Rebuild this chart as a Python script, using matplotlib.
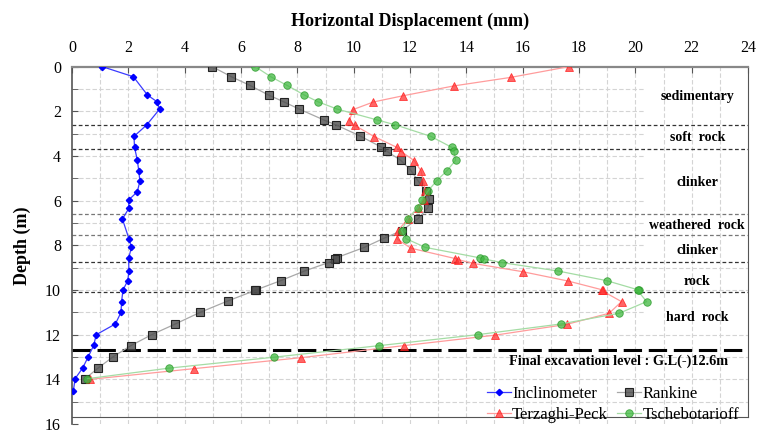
import matplotlib
matplotlib.use('Agg')
import matplotlib.pyplot as plt
import numpy as np

plt.rcParams['font.family'] = ['Liberation Serif', 'DejaVu Serif']

# Inclinometer readings (depth m, displacement mm)
incl_depth = [0, 0.45, 1.27, 1.57, 1.9, 2.61, 3.12, 3.61, 4.19, 4.66, 5.12, 5.6, 5.97, 6.34, 6.82,
              7.7, 8.09, 8.58, 9.15, 9.58, 10.0, 10.52, 11.0, 11.52, 12.0, 12.48, 12.98, 13.49, 13.97, 14.5]
incl_disp = [1.08, 2.18, 2.68, 3.02, 3.11, 2.65, 2.2, 2.22, 2.32, 2.37, 2.41, 2.32, 2.01, 2.02, 1.79,
             2.02, 2.11, 2.01, 2.02, 1.98, 1.81, 1.76, 1.74, 1.54, 0.86, 0.77, 0.58, 0.38, 0.11, 0.05]

rank_depth = [0, 0.45, 0.84, 1.27, 1.58, 1.9, 2.39, 2.61, 3.11, 3.6, 3.78, 4.19, 4.64, 5.1, 5.58, 5.94,
              6.31, 6.8, 7.34, 7.68, 8.09, 8.55, 8.6, 8.77, 9.15, 9.58, 10.0, 10.02, 10.49, 11.0, 11.52,
              12.0, 12.49, 12.98, 13.5, 13.99]
rank_disp = [4.98, 5.66, 6.32, 6.98, 7.53, 8.07, 8.95, 9.38, 10.24, 10.98, 11.17, 11.67, 12.03, 12.28,
             12.57, 12.69, 12.64, 12.29, 11.71, 11.08, 10.38, 9.4, 9.35, 9.11, 8.25, 7.41, 6.53, 6.5,
             5.53, 4.55, 3.67, 2.83, 2.09, 1.47, 0.92, 0.45]

terz_depth = [0, 0.48, 0.86, 1.3, 1.58, 1.92, 2.41, 2.63, 3.13, 3.61, 3.8, 4.21, 4.66, 5.13, 5.55, 5.97,
              6.34, 6.82, 7.36, 7.72, 8.13, 8.59, 8.64, 8.81, 9.18, 9.6, 10.0, 10.02, 10.52, 11.04,
              11.54, 12.02, 12.49, 13.03, 13.52, 14.0]
terz_disp = [17.63, 15.57, 13.56, 11.76, 10.7, 9.98, 9.85, 10.04, 10.73, 11.53, 11.69, 12.15, 12.39,
             12.47, 12.54, 12.49, 12.27, 11.92, 11.56, 11.54, 12.04, 13.6, 13.71, 14.25, 16.0, 17.62,
             18.85, 18.8, 19.51, 19.07, 17.56, 15.03, 11.79, 8.13, 4.34, 0.64]

tsch_depth = [0, 0.45, 0.84, 1.27, 1.58, 1.9, 2.38, 2.6, 3.12, 3.61, 3.78, 4.19, 4.66, 5.1, 5.58, 5.95,
              6.31, 6.8, 7.34, 7.7, 8.09, 8.56, 8.61, 8.77, 9.15, 9.58, 10.0, 10.02, 10.52, 11.04,
              11.52, 12.0, 12.49, 13.01, 13.5, 13.97]
tsch_disp = [6.51, 7.06, 7.64, 8.25, 8.75, 9.42, 10.82, 11.47, 12.74, 13.48, 13.56, 13.62, 13.31,
             12.95, 12.63, 12.44, 12.28, 11.92, 11.7, 11.86, 12.54, 14.48, 14.63, 15.25, 17.26, 18.98,
             20.12, 20.08, 20.4, 19.43, 17.36, 14.4, 10.91, 7.16, 3.43, 0.55]

# soil layers
layer_bounds = [2.6, 3.7, 6.6, 7.55, 8.75, 10.1]
layer_names = ['sedimentary', 'soft  rock', 'clinker', 'weathered  rock', 'clinker', 'rock', 'hard  rock']
layer_label_depth = [1.34, 3.18, 5.2, 7.12, 8.24, 9.6, 11.24]
excav_depth = 12.7

fig = plt.figure(figsize=(7.58, 4.30), dpi=100)
ax = fig.add_axes([72 / 758, 1 - 424 / 430, (748 - 72) / 758, (424 - 66.7) / 430])

ax.set_xlim(0, 24)
ax.set_ylim(16, 0)

# grid (horizontal lines stop short in the label column for the upper layers)
for xv in range(1, 24):
    ax.axvline(xv, color='#d4d4d4', lw=0.8, ls=(0, (4, 2)), zorder=0)
for yv in range(1, 16):
    xmax = 20.3 / 24 if (yv <= 8 or yv == 11) else 1
    ax.axhline(yv, xmax=xmax, color='#d4d4d4', lw=0.8, ls=(0, (4, 2)), zorder=0)

for i, yb in enumerate(layer_bounds):
    col = '#777777' if i in (2, 3) else '#333333'
    ax.axhline(yb, color=col, lw=0.9, ls=(0, (3, 2)), zorder=1)
ax.axhline(excav_depth, xmax=23.8 / 24, color='black', lw=2.2, ls=(0, (6, 2.2)), zorder=1)

h_incl, = ax.plot(incl_disp, incl_depth, color='#3b3bff', lw=0.9, marker='D', ms=3.2,
                  mfc='#0000ff', mec='#0000ff', label='Inclinometer', zorder=5)
h_rank, = ax.plot(rank_disp, rank_depth, color='#a8a8a8', lw=0.9, marker='s', ms=5.4,
                  mfc=(0.3, 0.3, 0.3, 0.8), mec='#222222', mew=0.8, label='Rankine', zorder=3)
h_terz, = ax.plot(terz_disp, terz_depth, color='#ff9c9c', lw=0.9, marker='^', ms=5.7,
                  mfc=(1, 0.2, 0.2, 0.75), mec=(1, 0.1, 0.1, 0.8), mew=0.6, label='Terzaghi-Peck', zorder=4)
h_tsch, = ax.plot(tsch_disp, tsch_depth, color='#a4dca4', lw=0.9, marker='o', ms=5.4,
                  mfc=(0.25, 0.72, 0.25, 0.75), mec=(0.15, 0.6, 0.15, 0.8), mew=0.6, label='Tschebotarioff', zorder=4)

for name, yl in zip(layer_names, layer_label_depth):
    ax.text(22.2, yl, name, ha='center', va='center', fontsize=10, fontweight='bold')
ax.text(19.4, 13.2, 'Final excavation level : G.L(-)12.6m', ha='center', va='center',
        fontsize=10.3, fontweight='bold')

ax.legend(handles=[h_incl, h_terz, h_rank, h_tsch], ncol=2, loc='lower right',
          bbox_to_anchor=(1.004, -0.03), frameon=False, fontsize=12,
          handlelength=1.4, handletextpad=0.1, columnspacing=0.55, labelspacing=0.3, borderpad=0.2)

ax.xaxis.set_ticks_position('top')
ax.xaxis.set_label_position('top')
ax.set_xticks(np.arange(0, 25, 2))
ax.set_yticks(np.arange(0, 17, 2))
ax.set_yticks(np.arange(0, 17, 1), minor=True)
ax.tick_params(axis='x', which='major', direction='in', length=4, labelsize=11.5, pad=8, color='#555555')
ax.tick_params(axis='y', which='both', direction='in', length=4, labelsize=11.5, pad=8, color='#555555')
ax.set_xlabel('Horizontal Displacement (mm)', fontsize=13, fontweight='bold', labelpad=10)
ax.set_ylabel('Depth (m)', fontsize=13, fontweight='bold', labelpad=10)

for s in ['top', 'left', 'right', 'bottom']:
    ax.spines[s].set_color('#555555')
ax.spines['top'].set_linewidth(1.6)
ax.spines['top'].set_color('#888888')
ax.spines['left'].set_linewidth(1.2)
ax.spines['bottom'].set_position(('data', 15.7))
ax.spines['right'].set_bounds(0, 15.7)

fig.savefig('out.png', dpi=100)
